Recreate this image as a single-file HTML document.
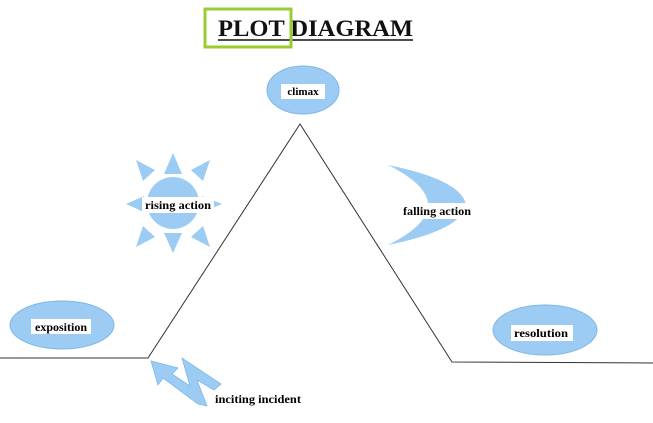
<!DOCTYPE html>
<html><head><style>
body{margin:0;background:#fff;}
svg{display:block;}
text{font-family:"Liberation Serif",serif;font-weight:bold;}
</style></head><body>
<svg width="653" height="423" viewBox="0 0 653 423" xmlns="http://www.w3.org/2000/svg">
<rect width="653" height="423" fill="#fff"/>
<text x="218" y="36" font-size="23" fill="#111" textLength="195" lengthAdjust="spacingAndGlyphs">PLOT DIAGRAM</text>
<line x1="218" y1="40" x2="413" y2="40" stroke="#111" stroke-width="1.5"/>
<rect x="205" y="9" width="86" height="38" fill="none" stroke="#9c3" stroke-width="3"/>
<polyline points="0,358 148,358 300,124 452,362 653,363" fill="none" stroke="#333" stroke-width="1"/>
<ellipse cx="303" cy="90" rx="36" ry="24" fill="#9cccf4" stroke="#7fb6e6"/>
<rect x="281" y="84" width="44" height="15" fill="#fff"/>
<text x="303" y="95" font-size="11" text-anchor="middle">climax</text>
<ellipse cx="62" cy="325" rx="52" ry="24" fill="#9cccf4" stroke="#7fb6e6"/>
<rect x="31" y="319" width="60" height="15" fill="#fff"/>
<text x="61" y="331" font-size="11.5" text-anchor="middle" textLength="52" lengthAdjust="spacingAndGlyphs">exposition</text>
<ellipse cx="545" cy="330" rx="52" ry="25" fill="#9cccf4" stroke="#7fb6e6"/>
<rect x="511" y="325" width="62" height="16" fill="#fff"/>
<text x="541" y="337" font-size="11.5" text-anchor="middle" textLength="54" lengthAdjust="spacingAndGlyphs">resolution</text>
<g fill="#9cccf4">
<circle cx="173" cy="203" r="26"/>
<polygon points="164,174 182,174 173,153"/>
<polygon points="164,233 182,233 173,253"/>
<polygon points="143,181 155,170 136,160"/>
<polygon points="191,170 203,181 210,160"/>
<polygon points="143,226 155,237 136,247"/>
<polygon points="191,237 203,226 210,247"/>
<polygon points="144,196 144,212 126,204"/>
<polygon points="202,196 202,212 222,204"/>
</g>
<rect x="142" y="197" width="72" height="16" fill="#fff"/>
<text x="178" y="209" font-size="12" text-anchor="middle" textLength="66" lengthAdjust="spacingAndGlyphs">rising action</text>
<path d="M388,165 Q462,180 466,205 Q462,230 388,245 Q428,225 428,205 Q428,185 388,165 Z" fill="#9cccf4"/>
<rect x="400" y="203" width="74" height="16" fill="#fff"/>
<text x="437" y="215" font-size="12" text-anchor="middle" textLength="68" lengthAdjust="spacingAndGlyphs">falling action</text>
<polygon points="151,361 178,368 172,374 190,386 182,358 221,384 214,390 197,380 207,406 198,404 163,378 158,385" fill="#9cccf4" stroke="#7fb6e6" stroke-width="0.8"/>
<text x="215" y="403" font-size="11.5" textLength="86" lengthAdjust="spacingAndGlyphs">inciting incident</text>
</svg>
</body></html>
